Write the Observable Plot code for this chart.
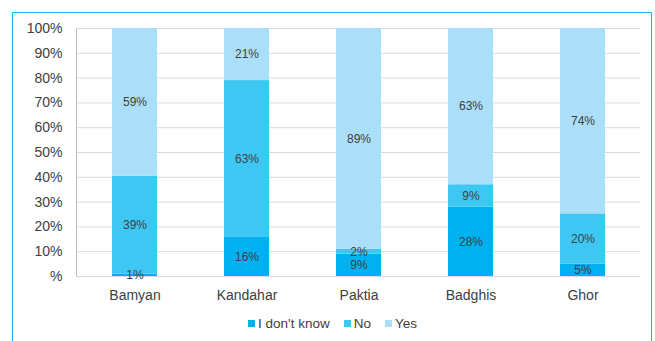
<!DOCTYPE html>
<html>
<head>
<meta charset="utf-8">
<script src="https://cdn.jsdelivr.net/npm/d3@7"></script>
<script src="https://cdn.jsdelivr.net/npm/@observablehq/plot@0.6"></script>
<style>
  html, body { margin: 0; padding: 0; background: #fff; }
  body { width: 655px; height: 341px; position: relative; overflow: hidden; font-family: "Liberation Sans", Arial, sans-serif; }
  #frame { position: absolute; left: 12px; top: 12px; width: 640px; height: 360px; border: 1.5px solid #1BB3EE; box-sizing: border-box; }
  #chart { position: absolute; left: 0; top: 0; }
  #legend { position: absolute; left: 12px; width: 641px; top: 316px; display: flex; justify-content: center; gap: 14px; font-size: 13.5px; color: #404040; }
  #legend span.item { display: inline-flex; align-items: center; }
  #legend span.sw { width: 7px; height: 7px; display: inline-block; margin-right: 3px; }
</style>
</head>
<body>
<div id="frame"></div>
<div id="chart"></div>
<div id="legend"></div>
<script>
const regions = ["Bamyan", "Kandahar", "Paktia", "Badghis", "Ghor"];
const answers = ["I don't know", "No", "Yes"];
const dontKnow = [1, 16, 9, 28, 5];
const no = [39, 63, 2, 9, 20];
const yes = [59, 21, 89, 63, 74];
const colors = ["#00B0F0", "#3FC7F4", "#ABDFF9"];
const yTicks = [0, 0.1, 0.2, 0.3, 0.4, 0.5, 0.6, 0.7, 0.8, 0.9, 1];

const series = [dontKnow, no, yes];
const data = [];
regions.forEach((r, i) => {
  answers.forEach((a, j) => data.push({region: r, answer: a, value: series[j][i]}));
});

const stackOpts = {x: "region", y: "value", z: "answer", order: answers, offset: "normalize"};

const chart = Plot.plot({
  width: 655,
  height: 310,
  marginLeft: 76,
  marginRight: 15,
  marginTop: 28,
  marginBottom: 34,
  style: {fontFamily: "'Liberation Sans', Arial, sans-serif", background: "transparent", color: "#404040"},
  x: {domain: regions, paddingInner: 0.6, paddingOuter: 0.3, label: null},
  y: {domain: [0, 1], label: null},
  color: {domain: answers, range: colors},
  marks: [
    Plot.gridY(yTicks, {stroke: "#D9D9D9", strokeOpacity: 1, strokeWidth: 1}),
    Plot.frame({anchor: "left", stroke: "#BFBFBF"}),
    Plot.barY(data, Plot.stackY({...stackOpts, fill: "answer"})),
    Plot.text(data, Plot.stackY({...stackOpts, text: d => d.value + "%", fill: "#404040", fontSize: 12})),
    Plot.axisY(yTicks, {tickSize: 0, tickPadding: 14, fontSize: 14, fill: "#404040",
      tickFormat: d => d === 0 ? "%" : Math.round(d * 100) + "%"}),
    Plot.axisX({tickSize: 0, tickPadding: 14, fontSize: 14, fill: "#404040"})
  ]
});
document.getElementById("chart").appendChild(chart);

const legend = document.getElementById("legend");
answers.forEach((a, j) => {
  const item = document.createElement("span");
  item.className = "item";
  const sw = document.createElement("span");
  sw.className = "sw";
  sw.style.background = colors[j];
  item.appendChild(sw);
  item.appendChild(document.createTextNode(a));
  legend.appendChild(item);
});
</script>
</body>
</html>
